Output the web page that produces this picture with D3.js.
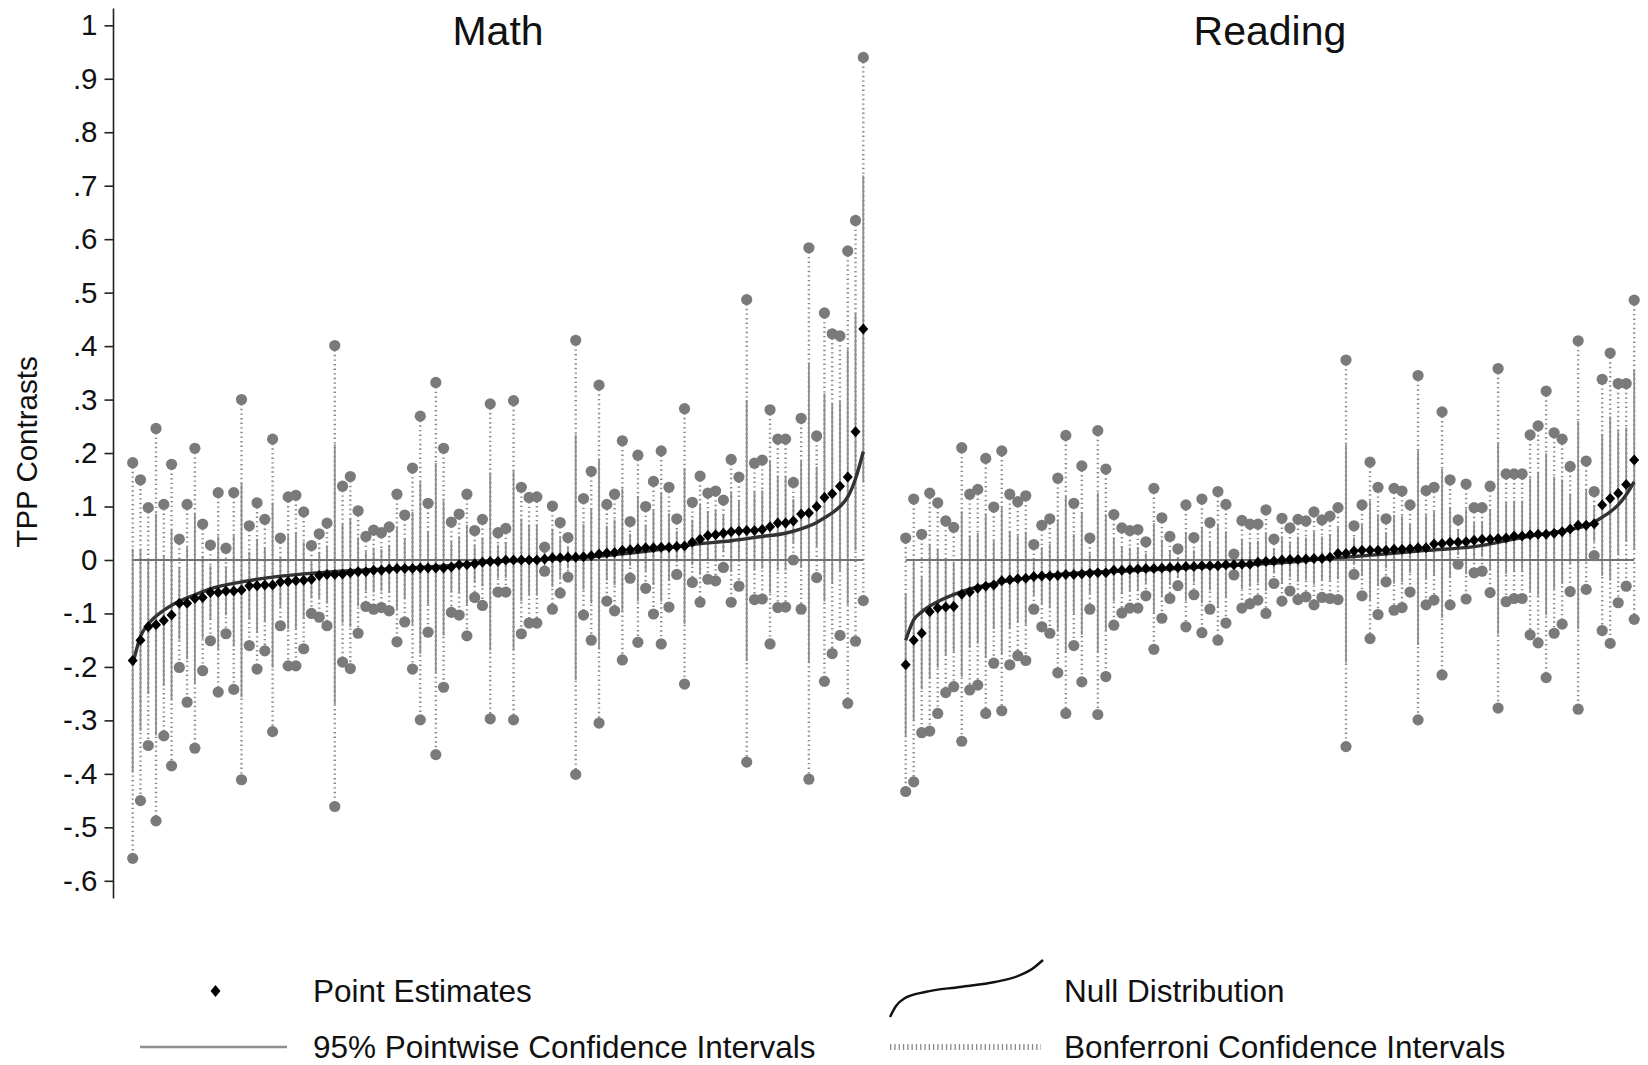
<!DOCTYPE html>
<html><head><meta charset="utf-8">
<script src="https://cdn.jsdelivr.net/npm/d3@7"></script>
<style>html,body{margin:0;padding:0;background:#fff;} svg{display:block;}</style>
</head><body>
<svg id="chart" width="1648" height="1065"></svg>
<script>
// ---------------- DATA ----------------
const panelTitles = ["Math", "Reading"];
const yTickValues = [1, 0.9, 0.8, 0.7, 0.6, 0.5, 0.4, 0.3, 0.2, 0.1, 0, -0.1, -0.2, -0.3, -0.4, -0.5, -0.6];
const yTickLabels = ["1", ".9", ".8", ".7", ".6", ".5", ".4", ".3", ".2", ".1", "0", "-.1", "-.2", "-.3", "-.4", "-.5", "-.6"];
const yAxisTitle = "TPP Contrasts";
const legendLabels = ["Point Estimates", "Null Distribution", "95% Pointwise Confidence Intervals", "Bonferroni Confidence Intervals"];

// critical values relating the two interval types
const Z95 = 1.96;
const ZBONF = 3.47;

// Math: point estimates (sorted) and Bonferroni interval ends
const mathEst = [
 -0.188,-0.150,-0.125,-0.121,-0.113,-0.103,-0.081,-0.081,-0.072,-0.070,
 -0.061,-0.061,-0.058,-0.058,-0.056,-0.048,-0.048,-0.047,-0.047,-0.041,
 -0.040,-0.039,-0.038,-0.036,-0.029,-0.027,-0.027,-0.026,-0.024,-0.022,
 -0.022,-0.019,-0.019,-0.017,-0.016,-0.016,-0.016,-0.015,-0.015,-0.015,
 -0.015,-0.013,-0.009,-0.009,-0.007,-0.004,-0.003,-0.003,0.000,0.000,
 0.000,0.000,0.000,0.002,0.004,0.004,0.005,0.005,0.006,0.008,
 0.011,0.013,0.014,0.018,0.019,0.021,0.023,0.023,0.024,0.024,
 0.025,0.026,0.033,0.039,0.046,0.047,0.050,0.053,0.054,0.055,
 0.055,0.057,0.062,0.069,0.069,0.073,0.086,0.088,0.100,0.117,
 0.124,0.138,0.155,0.240,0.432];
const mathBonfHi = [
 0.182,0.150,0.098,0.246,0.104,0.179,0.039,0.104,0.209,0.067,
 0.028,0.126,0.022,0.126,0.300,0.064,0.107,0.076,0.226,0.041,
 0.118,0.121,0.090,0.027,0.049,0.069,0.401,0.138,0.156,0.092,
 0.044,0.056,0.051,0.062,0.123,0.084,0.172,0.269,0.106,0.332,
 0.209,0.071,0.086,0.123,0.055,0.076,0.292,0.051,0.059,0.298,
 0.136,0.117,0.118,0.024,0.101,0.070,0.042,0.411,0.115,0.166,
 0.327,0.104,0.123,0.223,0.072,0.196,0.100,0.147,0.204,0.136,
 0.077,0.283,0.108,0.157,0.125,0.129,0.112,0.188,0.155,0.487,
 0.181,0.187,0.281,0.226,0.226,0.145,0.265,0.584,0.232,0.462,
 0.423,0.419,0.578,0.635,0.940];
const mathBonfLo = [
 -0.558,-0.450,-0.347,-0.488,-0.329,-0.385,-0.201,-0.266,-0.352,-0.207,
 -0.151,-0.247,-0.138,-0.242,-0.411,-0.160,-0.204,-0.170,-0.321,-0.123,
 -0.198,-0.198,-0.166,-0.100,-0.107,-0.123,-0.461,-0.191,-0.203,-0.137,
 -0.087,-0.092,-0.089,-0.095,-0.153,-0.116,-0.204,-0.299,-0.135,-0.364,
 -0.238,-0.098,-0.103,-0.142,-0.070,-0.085,-0.297,-0.060,-0.060,-0.299,
 -0.138,-0.118,-0.118,-0.021,-0.092,-0.062,-0.032,-0.401,-0.103,-0.150,
 -0.305,-0.077,-0.095,-0.187,-0.034,-0.154,-0.053,-0.101,-0.157,-0.088,
 -0.027,-0.232,-0.042,-0.079,-0.036,-0.039,-0.014,-0.079,-0.049,-0.378,
 -0.074,-0.073,-0.157,-0.089,-0.088,0.000,-0.092,-0.410,-0.033,-0.227,
 -0.175,-0.141,-0.268,-0.152,-0.076];
// Math null distribution (read at these program ranks)
const mathNullIdx = [0, 1, 2, 4, 6, 8, 10, 14, 18, 22, 28, 34, 41, 47, 53, 59, 66, 72, 77, 81, 84, 86, 88, 89, 90, 91, 92, 93, 94];
const mathNullVal = [-0.196,-0.143,-0.120,-0.094,-0.077,-0.065,-0.054,-0.041,-0.032,-0.026,-0.020,-0.016,-0.010,-0.003,0.001,0.006,0.016,0.029,0.036,0.044,0.050,0.058,0.070,0.079,0.088,0.100,0.118,0.152,0.203];

// Reading
const readEst = [
 -0.196,-0.150,-0.137,-0.097,-0.090,-0.088,-0.087,-0.064,-0.060,-0.053,
 -0.049,-0.047,-0.039,-0.037,-0.035,-0.034,-0.031,-0.030,-0.030,-0.029,
 -0.027,-0.027,-0.026,-0.025,-0.024,-0.024,-0.019,-0.019,-0.018,-0.017,
 -0.016,-0.016,-0.015,-0.014,-0.014,-0.012,-0.012,-0.011,-0.011,-0.011,
 -0.009,-0.009,-0.008,-0.008,-0.004,-0.003,-0.002,0.000,0.001,0.001,
 0.002,0.003,0.003,0.005,0.012,0.012,0.017,0.018,0.018,0.018,
 0.018,0.020,0.020,0.021,0.023,0.023,0.030,0.031,0.033,0.033,
 0.034,0.037,0.039,0.039,0.040,0.041,0.045,0.045,0.047,0.048,
 0.048,0.050,0.053,0.058,0.065,0.065,0.068,0.103,0.115,0.125,
 0.141,0.187];
const readBonfHi = [
 0.041,0.114,0.048,0.125,0.107,0.073,0.061,0.210,0.123,0.132,
 0.190,0.099,0.204,0.123,0.109,0.120,0.029,0.065,0.077,0.153,
 0.233,0.106,0.176,0.041,0.242,0.170,0.085,0.060,0.055,0.057,
 0.034,0.134,0.079,0.044,0.021,0.103,0.042,0.114,0.070,0.128,
 0.104,0.011,0.074,0.067,0.067,0.094,0.039,0.078,0.060,0.076,
 0.073,0.090,0.075,0.082,0.098,0.374,0.064,0.103,0.183,0.136,
 0.077,0.134,0.129,0.103,0.345,0.130,0.136,0.277,0.150,0.075,
 0.142,0.098,0.098,0.138,0.358,0.161,0.161,0.161,0.234,0.251,
 0.316,0.238,0.226,0.175,0.410,0.185,0.128,0.338,0.387,0.330,
 0.330,0.486];
const readBonfLo = [
 -0.433,-0.415,-0.323,-0.320,-0.287,-0.248,-0.237,-0.339,-0.243,-0.234,
 -0.287,-0.193,-0.282,-0.196,-0.179,-0.188,-0.092,-0.125,-0.137,-0.211,
 -0.287,-0.160,-0.228,-0.092,-0.289,-0.218,-0.122,-0.099,-0.090,-0.090,
 -0.067,-0.167,-0.109,-0.072,-0.048,-0.125,-0.065,-0.136,-0.092,-0.150,
 -0.118,-0.028,-0.090,-0.082,-0.075,-0.100,-0.044,-0.077,-0.058,-0.074,
 -0.069,-0.084,-0.070,-0.072,-0.074,-0.349,-0.027,-0.067,-0.147,-0.102,
 -0.041,-0.094,-0.089,-0.060,-0.299,-0.084,-0.075,-0.215,-0.084,-0.008,
 -0.073,-0.024,-0.021,-0.061,-0.277,-0.078,-0.072,-0.072,-0.140,-0.155,
 -0.220,-0.137,-0.120,-0.059,-0.279,-0.055,0.008,-0.132,-0.156,-0.080,
 -0.049,-0.111];
const readNullIdx = [0, 1, 2, 4, 7, 11, 16, 22, 28, 34, 40, 47, 53, 59, 65, 71, 77, 80, 83, 85, 86, 87, 88, 89, 90, 91];
const readNullVal = [-0.150,-0.112,-0.097,-0.078,-0.059,-0.044,-0.032,-0.024,-0.020,-0.016,-0.011,-0.005,0.003,0.010,0.018,0.025,0.042,0.049,0.057,0.064,0.071,0.080,0.090,0.103,0.122,0.146];

// ---------------- DRAW ----------------
const FONT = "'Liberation Sans', Arial, Helvetica, sans-serif";
const svg = d3.select("#chart");
svg.append("rect").attr("width", 1648).attr("height", 1065).attr("fill", "#fff");

const y = d3.scaleLinear().domain([-0.6, 1]).range([880.8, 25.3]);

const C_CI = "#8e8e8e", C_BONF = "#8a8a8a", C_DOT = "#7a7a7a", C_ZERO = "#707070", C_NULL = "#333333";
const diamond = (cx, cy, w, h) => `M${cx},${cy - h}L${cx + w},${cy}L${cx},${cy + h}L${cx - w},${cy}Z`;

// y axis
const axisX = 113.5;
svg.append("line").attr("x1", axisX).attr("x2", axisX).attr("y1", 8.5).attr("y2", 898.5)
  .attr("stroke", "#222").attr("stroke-width", 1.6);
const yAxis = d3.axisLeft(y).tickValues(yTickValues).tickFormat((d, i) => yTickLabels[i])
  .tickSize(9).tickSizeOuter(0).tickPadding(7);
const ga = svg.append("g").attr("transform", `translate(${axisX},0)`).call(yAxis);
ga.select(".domain").remove();
ga.selectAll(".tick line").attr("stroke", "#222").attr("stroke-width", 1.6);
ga.selectAll(".tick text").attr("font-family", FONT).attr("font-size", 29.5).attr("fill", "#111");

svg.append("text").attr("transform", "translate(27,452) rotate(-90)")
  .attr("text-anchor", "middle").attr("dy", "0.35em")
  .attr("font-family", FONT).attr("font-size", 29.5).attr("fill", "#111").text(yAxisTitle);

const panels = [
  {title: panelTitles[0], est: mathEst, lo: mathBonfLo, hi: mathBonfHi, nIdx: mathNullIdx, nVal: mathNullVal, range: [132.7, 863.3]},
  {title: panelTitles[1], est: readEst, lo: readBonfLo, hi: readBonfHi, nIdx: readNullIdx, nVal: readNullVal, range: [905.7, 1634.2]}
];

panels.forEach(p => {
  const n = p.est.length;
  const x = d3.scaleLinear().domain([0, n - 1]).range(p.range);
  const rows = p.est.map((e, i) => ({
    i, e, lo: p.lo[i], hi: p.hi[i],
    half: (p.hi[i] - p.lo[i]) / 2 * Z95 / ZBONF
  }));
  const g = svg.append("g");

  // Bonferroni (dotted)
  g.selectAll("line.bonf").data(rows).join("line").attr("class", "bonf")
    .attr("x1", d => x(d.i)).attr("x2", d => x(d.i))
    .attr("y1", d => y(d.hi)).attr("y2", d => y(d.lo))
    .attr("stroke", C_BONF).attr("stroke-width", 2.4).attr("stroke-dasharray", "1.4 3.2");

  // 95% pointwise CI (solid)
  g.selectAll("line.ci").data(rows).join("line").attr("class", "ci")
    .attr("x1", d => x(d.i)).attr("x2", d => x(d.i))
    .attr("y1", d => y(d.e + d.half)).attr("y2", d => y(d.e - d.half))
    .attr("stroke", C_CI).attr("stroke-width", 1.8);

  // zero line
  g.append("line").attr("x1", x(0)).attr("x2", x(n - 1)).attr("y1", y(0)).attr("y2", y(0))
    .attr("stroke", C_ZERO).attr("stroke-width", 1.8);

  // Bonferroni end markers
  const ends = rows.flatMap(d => [{i: d.i, v: d.hi}, {i: d.i, v: d.lo}]);
  g.selectAll("circle.end").data(ends).join("circle").attr("class", "end")
    .attr("cx", d => x(d.i)).attr("cy", d => y(d.v)).attr("r", 5.6)
    .attr("fill", C_DOT);

  // null distribution
  const nullPts = p.nIdx.map((k, j) => [k, p.nVal[j]]);
  g.append("path").datum(nullPts)
    .attr("d", d3.line().x(d => x(d[0])).y(d => y(d[1])).curve(d3.curveMonotoneX))
    .attr("fill", "none").attr("stroke", C_NULL).attr("stroke-width", 3.4);

  // point estimates
  g.selectAll("path.est").data(rows).join("path").attr("class", "est")
    .attr("d", d => diamond(x(d.i), y(d.e), 5, 5.5)).attr("fill", "#000");

  // title
  svg.append("text").attr("x", (p.range[0] + p.range[1]) / 2).attr("y", 45)
    .attr("text-anchor", "middle").attr("font-family", FONT).attr("font-size", 41)
    .attr("fill", "#111").text(p.title);
});

// ---------------- LEGEND ----------------
const lg = svg.append("g");
const row1 = 991, row2 = 1047;
lg.append("path").attr("d", diamond(215.5, row1, 5, 6)).attr("fill", "#000");
lg.append("line").attr("x1", 140).attr("x2", 287).attr("y1", row2).attr("y2", row2)
  .attr("stroke", C_CI).attr("stroke-width", 2.4);
const legNull = [[890, 1017], [896, 1006], [905, 998], [925, 992], [960, 987], [995, 982], [1018, 976], [1032, 969], [1043, 960]];
lg.append("path").datum(legNull)
  .attr("d", d3.line().curve(d3.curveMonotoneX))
  .attr("fill", "none").attr("stroke", "#111").attr("stroke-width", 2.4);
lg.append("line").attr("x1", 890).attr("x2", 1041).attr("y1", row2).attr("y2", row2)
  .attr("stroke", C_BONF).attr("stroke-width", 6).attr("stroke-dasharray", "1.3 3");
const legText = [
  {x: 313, y: row1, t: legendLabels[0]},
  {x: 1064, y: row1, t: legendLabels[1]},
  {x: 313, y: row2, t: legendLabels[2]},
  {x: 1064, y: row2, t: legendLabels[3]}
];
lg.selectAll("text").data(legText).join("text")
  .attr("x", d => d.x).attr("y", d => d.y).attr("dy", "0.36em")
  .attr("font-family", FONT).attr("font-size", 31.5).attr("fill", "#111").text(d => d.t);
</script>
</body></html>
